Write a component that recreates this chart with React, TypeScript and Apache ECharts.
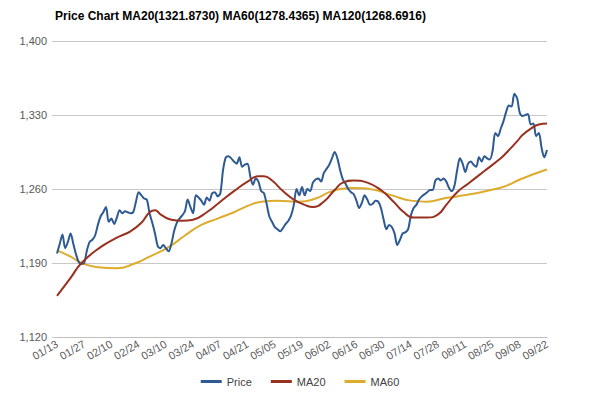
import React, { useEffect, useRef } from "react";
import * as echarts from "echarts";

const titleText = "Price Chart MA20(1321.8730) MA60(1278.4365) MA120(1268.6916)";

const tickLabels = [
  "01/13", "01/27", "02/10", "02/24", "03/10", "03/24", "04/07", "04/21", "05/05", "05/19",
  "06/02", "06/16", "06/30", "07/14", "07/28", "08/11", "08/25", "09/08", "09/22",
];

const yTicks = [1120, 1190, 1260, 1330, 1400];

// daily closing price, trading day 0 = 01/13 ... 180 = 09/22
const price = [
  1199, 1208, 1217, 1204, 1210, 1218, 1208, 1198, 1191, 1189,
  1190, 1202, 1210, 1212, 1216, 1226, 1234, 1238, 1243, 1229,
  1232, 1227, 1233, 1240, 1237, 1239, 1238, 1237, 1238, 1248,
  1257, 1254, 1251, 1250, 1237, 1228, 1218, 1206, 1204, 1207,
  1204, 1201, 1208, 1220, 1228, 1232, 1235, 1239, 1250, 1243,
  1237, 1254, 1252, 1249, 1245, 1252, 1249, 1256, 1257, 1253,
  1256, 1278, 1290, 1291, 1289, 1286, 1284, 1290, 1281, 1283,
  1284, 1272, 1264, 1270, 1267, 1258, 1256, 1246, 1234, 1229,
  1224, 1222, 1220, 1223, 1227, 1230, 1235, 1245, 1260, 1254,
  1262, 1254, 1260, 1258, 1266, 1269, 1270, 1267, 1275, 1279,
  1283, 1289, 1295, 1289, 1278, 1269, 1265, 1260, 1257, 1255,
  1249, 1242, 1247, 1254, 1250, 1245, 1246, 1249, 1248, 1242,
  1231, 1222, 1226, 1224, 1218, 1207, 1212, 1218, 1219, 1222,
  1235, 1242, 1245, 1250, 1253, 1255, 1257, 1259, 1259, 1268,
  1270, 1268, 1270, 1267, 1261, 1258, 1263, 1278, 1289, 1284,
  1276, 1284, 1286, 1283, 1281, 1290, 1286, 1291, 1289, 1288,
  1296, 1313, 1310, 1317, 1324, 1333, 1339, 1338, 1350, 1346,
  1332, 1329, 1330, 1331, 1321, 1322, 1310, 1313, 1299, 1290,
  1297,
];

// [trading day, value]
const ma20 = [
  [0, 1159], [5, 1176], [9, 1190], [16, 1205], [22, 1214], [27, 1220], [31, 1228],
  [34, 1238], [36, 1240], [38, 1236], [42, 1231], [46, 1230], [50, 1231], [55, 1238],
  [60, 1248], [65, 1258], [70, 1267], [74, 1272], [76, 1272], [79, 1268], [83, 1258],
  [87, 1250], [91, 1245], [94, 1243], [98, 1248], [102, 1259], [105, 1266], [109, 1268],
  [114, 1266], [119, 1259], [124, 1247], [127, 1239], [131, 1233], [136, 1233],
  [140, 1236], [143, 1245], [147, 1257], [151, 1265], [157, 1277], [163, 1289],
  [165, 1294], [169, 1305], [171, 1311], [174, 1317], [177, 1321], [180, 1321.873],
];

const ma60 = [
  [0, 1202], [5, 1196], [9, 1190], [15, 1186], [22, 1185], [28, 1189], [34, 1196],
  [41, 1205], [47, 1216], [53, 1226], [59, 1232], [65, 1238], [71, 1245], [75, 1248],
  [81, 1249], [89, 1248], [95, 1251], [100, 1257], [104, 1260], [109, 1261], [117, 1259],
  [123, 1254], [130, 1249], [136, 1248], [142, 1251], [147, 1253], [154, 1256],
  [161, 1260], [165, 1263], [170, 1269], [175, 1274], [180, 1278.4365],
];

const FONT = "'Liberation Sans', Arial, sans-serif";

export default function App() {
  const ref = useRef<HTMLDivElement>(null);
  useEffect(() => {
    const chart = echarts.init(ref.current!, null, { renderer: "svg" });
    chart.setOption({
      animation: false,
      backgroundColor: "#ffffff",
      textStyle: { fontFamily: FONT },
      title: {
        text: titleText,
        left: 50,
        top: 5,
        textStyle: { fontSize: 12, fontWeight: "bold", color: "#000000", fontFamily: FONT },
      },
      grid: { left: 57, right: 53, top: 41, bottom: 60 },
      legend: {
        bottom: 5,
        left: "center",
        icon: "rect",
        itemWidth: 21,
        itemHeight: 3,
        itemGap: 19,
        textStyle: { fontSize: 11, color: "#404040", fontFamily: FONT },
        data: ["Price", "MA20", "MA60"],
      },
      xAxis: {
        type: "value",
        min: 0,
        max: (tickLabels.length - 1) * 10,
        interval: 10,
        axisLine: { show: true, lineStyle: { color: "#bfbfbf", width: 1 } },
        axisTick: { show: false },
        splitLine: { show: false },
        axisLabel: {
          rotate: 30,
          fontSize: 11,
          color: "#595959",
          margin: 6,
          fontFamily: FONT,
          formatter: (v: number) => tickLabels[Math.round(v / 10)] ?? "",
        },
      },
      yAxis: {
        type: "value",
        min: yTicks[0],
        max: yTicks[yTicks.length - 1],
        interval: 70,
        axisLine: { show: false },
        axisTick: { show: true, length: 5, lineStyle: { color: "#c8c8c8" } },
        splitLine: { show: true, lineStyle: { color: "#c8c8c8", width: 1 } },
        axisLabel: {
          fontSize: 11,
          color: "#595959",
          margin: 10,
          fontFamily: FONT,
          formatter: (v: number) => v.toLocaleString("en-US"),
        },
      },
      series: [
        {
          name: "Price",
          type: "line",
          data: price.map((v, i) => [i, v]),
          showSymbol: false,
          smooth: 0.3,
          color: "#2E5A94",
          lineStyle: { width: 2, color: "#2E5A94" },
          z: 3,
        },
        {
          name: "MA20",
          type: "line",
          data: ma20,
          showSymbol: false,
          smooth: 0.5,
          color: "#98311F",
          lineStyle: { width: 2, color: "#98311F" },
          z: 4,
        },
        {
          name: "MA60",
          type: "line",
          data: ma60,
          showSymbol: false,
          smooth: 0.5,
          color: "#DDAC2C",
          lineStyle: { width: 2, color: "#DDAC2C" },
          z: 2,
        },
      ],
    });
    return () => chart.dispose();
  }, []);
  return (
    <div
      ref={ref}
      style={{ width: 600, height: 397, position: "absolute", left: 0, top: 0 }}
    />
  );
}
